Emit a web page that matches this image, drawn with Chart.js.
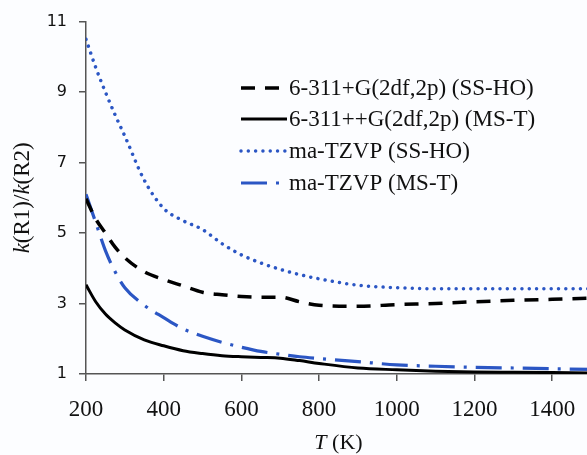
<!DOCTYPE html>
<html>
<head>
<meta charset="utf-8">
<script src="https://cdn.jsdelivr.net/npm/chart.js@4.4.1/dist/chart.umd.min.js"></script>
<style>
    html, body { margin: 0; padding: 0; background: #fcfdff; overflow: hidden; }
    #wrap { width: 587px; height: 455px; overflow: hidden; }
    canvas { display: block; }
</style>
</head>
<body>
<div id="wrap"><canvas id="chart" width="591" height="455"></canvas></div>
<script>
// --- Données ---
const temperatures = [200, 225, 250, 275, 300, 350, 400, 450, 500, 550, 600, 650, 700, 750, 800, 900, 1000, 1100, 1200, 1300, 1400, 1500];

const ssHo6311 = [5.97, 5.4, 5.0, 4.6, 4.3, 3.9, 3.68, 3.5, 3.32, 3.25, 3.2, 3.18, 3.18, 3.05, 2.95, 2.92, 2.97, 3.0, 3.05, 3.09, 3.12, 3.15];
const msT6311 = [3.53, 3.05, 2.7, 2.45, 2.25, 1.97, 1.8, 1.66, 1.58, 1.52, 1.49, 1.47, 1.45, 1.38, 1.3, 1.17, 1.12, 1.08, 1.06, 1.05, 1.04, 1.03];
const ssHoTzvp = [10.5, 9.7, 9.0, 8.35, 7.75, 6.5, 5.7, 5.35, 5.1, 4.7, 4.38, 4.15, 3.97, 3.82, 3.7, 3.52, 3.45, 3.42, 3.42, 3.42, 3.42, 3.42];
const msTTzvp = [6.1, 5.3, 4.5, 3.9, 3.45, 2.95, 2.6, 2.28, 2.07, 1.9, 1.76, 1.64, 1.56, 1.49, 1.44, 1.35, 1.26, 1.22, 1.19, 1.17, 1.15, 1.13];

const seriesLabels = ['6-311+G(2df,2p) (SS-HO)', '6-311++G(2df,2p) (MS-T)', 'ma-TZVP (SS-HO)', 'ma-TZVP (MS-T)'];
const xTicks = [200, 400, 600, 800, 1000, 1200, 1400];
const yTicks = [1, 3, 5, 7, 9, 11];

const toPoints = (values) => values.map((v, i) => ({ x: temperatures[i], y: v }));

const BLUE = '#2b56c4';
const SERIF = '"Liberation Serif", "Times New Roman", serif';

const styles = [
    { color: '#000', width: 3.5, dash: [14, 10], cap: 'butt' },
    { color: '#000', width: 3, dash: [], cap: 'butt' },
    { color: BLUE, width: 3.5, dash: [0.01, 7.3], cap: 'round' },
    { color: BLUE, width: 3.2, dash: [26, 9, 3, 9], cap: 'butt' }
];
const seriesData = [ssHo6311, msT6311, ssHoTzvp, msTTzvp];

const datasets = seriesData.map((vals, i) => ({
    label: seriesLabels[i],
    data: toPoints(vals),
    borderColor: styles[i].color,
    borderWidth: styles[i].width,
    borderDash: styles[i].dash,
    borderCapStyle: styles[i].cap,
    pointRadius: 0,
    fill: false,
    tension: 0.4,
    cubicInterpolationMode: 'monotone'
}));

// Légende dessinée dans la zone du graphique
const insideLegend = {
    id: 'insideLegend',
    afterDatasetsDraw(chart) {
        const ctx = chart.ctx;
        const rows = [88, 119, 151, 183];
        ctx.save();
        ctx.font = '23px ' + SERIF;
        ctx.textBaseline = 'middle';
        ctx.fillStyle = '#111';
        chart.data.datasets.forEach((ds, i) => {
            const y = rows[i];
            ctx.beginPath();
            ctx.strokeStyle = ds.borderColor;
            ctx.lineWidth = ds.borderWidth;
            ctx.setLineDash(ds.borderDash);
            ctx.lineCap = ds.borderCapStyle;
            ctx.moveTo(241, y);
            ctx.lineTo(287, y);
            ctx.stroke();
            ctx.setLineDash([]);
            ctx.fillText(ds.label, 289, y + 1);
        });
        ctx.restore();
    }
};

// Titres des axes avec k et T en italique
const drawRich = (ctx, parts, cx, cy) => {
    let total = 0;
    parts.forEach(p => { ctx.font = p.font; total += ctx.measureText(p.t).width; });
    let x = cx - total / 2;
    parts.forEach(p => {
        ctx.font = p.font;
        ctx.fillText(p.t, x, cy);
        x += ctx.measureText(p.t).width;
    });
};

const axisTitles = {
    id: 'axisTitles',
    afterDraw(chart) {
        const ctx = chart.ctx;
        const area = chart.chartArea;
        const it = 'italic 23px ' + SERIF;
        const rg = '23px ' + SERIF;
        ctx.save();
        ctx.fillStyle = '#111';
        ctx.textBaseline = 'middle';
        ctx.textAlign = 'left';
        ctx.translate(23, (area.top + area.bottom) / 2);
        ctx.rotate(-Math.PI / 2);
        drawRich(ctx, [{ t: 'k', font: it }, { t: '(R1)/', font: rg }, { t: 'k', font: it }, { t: '(R2)', font: rg }], 0, 0);
        ctx.restore();

        ctx.save();
        ctx.fillStyle = '#111';
        ctx.textBaseline = 'middle';
        ctx.textAlign = 'left';
        drawRich(ctx, [{ t: 'T', font: 'italic 22px ' + SERIF }, { t: ' (K)', font: '22px ' + SERIF }], (area.left + area.right) / 2, 443);
        ctx.restore();
    }
};

new Chart(document.getElementById('chart'), {
    type: 'line',
    data: { datasets },
    plugins: [insideLegend, axisTitles],
    options: {
        responsive: false,
        animation: false,
        devicePixelRatio: 1,
        layout: { padding: { top: 15, left: 0, right: 0, bottom: 0 } },
        plugins: {
            legend: { display: false },
            tooltip: { enabled: false }
        },
        scales: {
            x: {
                type: 'linear',
                min: 200,
                max: 1500,
                afterBuildTicks: (s) => { s.ticks = xTicks.map(v => ({ value: v })); },
                afterFit: (s) => { s.height = 81; },
                ticks: {
                    font: { family: SERIF, size: 23 },
                    color: '#111',
                    padding: 15,
                    maxRotation: 0,
                    callback: (v) => String(v)
                },
                grid: { display: true, drawOnChartArea: false, drawTicks: true, tickLength: 7, color: '#555', lineWidth: 1.5 },
                border: { display: true, color: '#555', width: 1.5 }
            },
            y: {
                min: 1,
                max: 11,
                afterBuildTicks: (s) => { s.ticks = yTicks.map(v => ({ value: v })); },
                afterFit: (s) => { s.width = 86; },
                ticks: {
                    font: { family: '"DejaVu Sans", sans-serif', size: 16 },
                    color: '#111',
                    padding: 12,
                    callback: (v) => String(v)
                },
                grid: { display: true, drawOnChartArea: false, drawTicks: true, tickLength: 7, color: '#555', lineWidth: 1.5 },
                border: { display: true, color: '#555', width: 1.5 }
            }
        }
    }
});
</script>
</body>
</html>
